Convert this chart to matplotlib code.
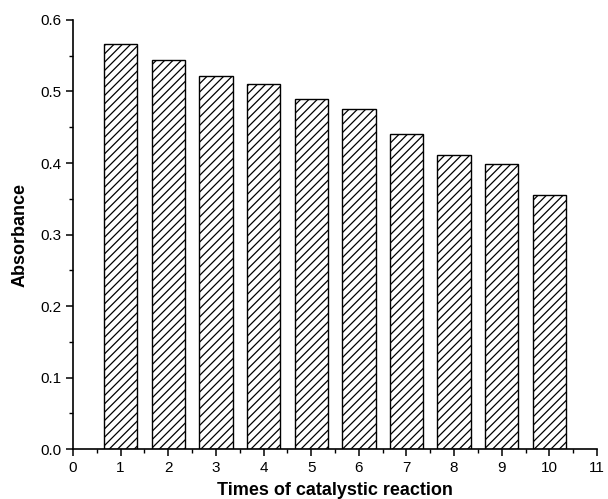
import matplotlib
matplotlib.use("Agg")
import matplotlib.pyplot as plt
from matplotlib.ticker import MultipleLocator

plt.rcParams['font.family'] = ['Liberation Sans', 'DejaVu Sans']
plt.rcParams['hatch.linewidth'] = 0.9

# data
times = [1, 2, 3, 4, 5, 6, 7, 8, 9, 10]
absorbance = [0.566, 0.544, 0.521, 0.510, 0.490, 0.475, 0.441, 0.411, 0.399, 0.355]

fig = plt.figure(figsize=(6.08, 4.99), dpi=100)
ax = fig.add_axes([0.120, 0.100, 0.862, 0.860])

ax.bar(times, absorbance, width=0.7, color='white', edgecolor='black',
       linewidth=1.0, hatch='////')

ax.set_xlim(0, 11)
ax.set_ylim(0, 0.6)
ax.xaxis.set_major_locator(MultipleLocator(1))
ax.xaxis.set_minor_locator(MultipleLocator(0.5))
ax.yaxis.set_major_locator(MultipleLocator(0.1))
ax.yaxis.set_minor_locator(MultipleLocator(0.05))
ax.yaxis.set_major_formatter(plt.FormatStrFormatter('%.1f'))

ax.spines['top'].set_visible(False)
ax.spines['right'].set_visible(False)
ax.spines['left'].set_linewidth(1.2)
ax.spines['bottom'].set_linewidth(1.2)
ax.tick_params(which='major', direction='out', length=5, width=1.1, labelsize=11)
ax.tick_params(which='minor', direction='out', length=3, width=1.0)

ax.set_xlabel('Times of catalystic reaction', fontsize=13, fontweight='bold', labelpad=5)
ax.set_ylabel('Absorbance', fontsize=13, fontweight='bold', labelpad=8)

fig.savefig('out.png', dpi=100)
